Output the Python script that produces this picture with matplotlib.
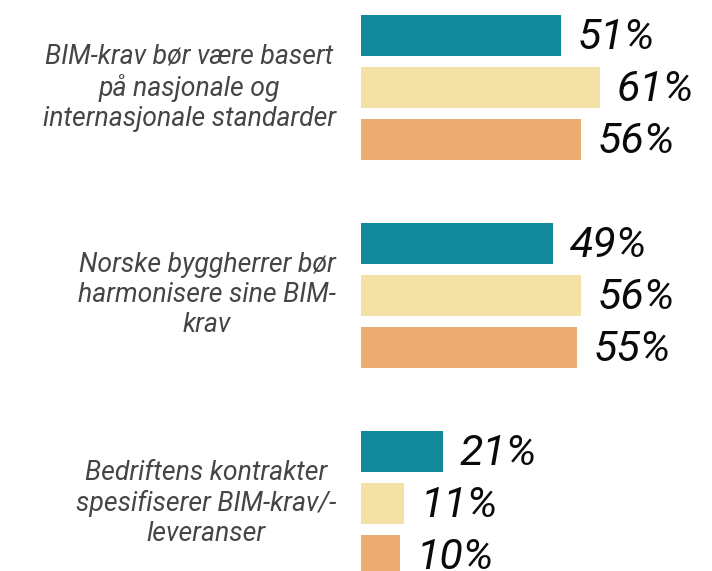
import matplotlib
matplotlib.use("Agg")
import matplotlib.pyplot as plt

categories = [
    "BIM-krav bør være basert\npå nasjonale og\ninternasjonale standarder",
    "Norske byggherrer bør\nharmonisere sine BIM-\nkrav",
    "Bedriftens kontrakter\nspesifiserer BIM-krav/-\nleveranser",
]
series_a = [51, 49, 21]
series_b = [61, 56, 11]
series_c = [56, 55, 10]
colors = ["#11899A", "#F4E1A6", "#EDAC71"]

W, H = 712, 571
fig = plt.figure(figsize=(W / 100, H / 100), dpi=100)
left_px = 361
ax = fig.add_axes([left_px / W, 0, (W - left_px) / W, 1])
ppu = 3.92
ax.set_xlim(0, (W - left_px) / ppu)
step = 52.0
ax.set_ylim((H - 35.5) / step, -35.5 / step)

for g, cat in enumerate(categories):
    vals = [series_a[g], series_b[g], series_c[g]]
    for s, v in enumerate(vals):
        y = g * 4 + s
        ax.barh(y, v, height=41 / 52, color=colors[s], edgecolor="none")
        ax.annotate(f"{v}%", xy=(v, y), xytext=(12, -1.5), textcoords="offset points",
                    ha="left", va="center", fontsize=31, fontstyle="italic",
                    family="Roboto", color="#0a0a0a")
    ax.annotate(cat, xy=(0, g * 4 + 1), xytext=(-18, 0), textcoords="offset points",
                ha="right", va="center", multialignment="center", fontsize=19.2,
                fontstyle="italic", family="Roboto", color="#454545",
                linespacing=1.2, annotation_clip=False)

ax.axis("off")
fig.savefig("out.png", dpi=100)
